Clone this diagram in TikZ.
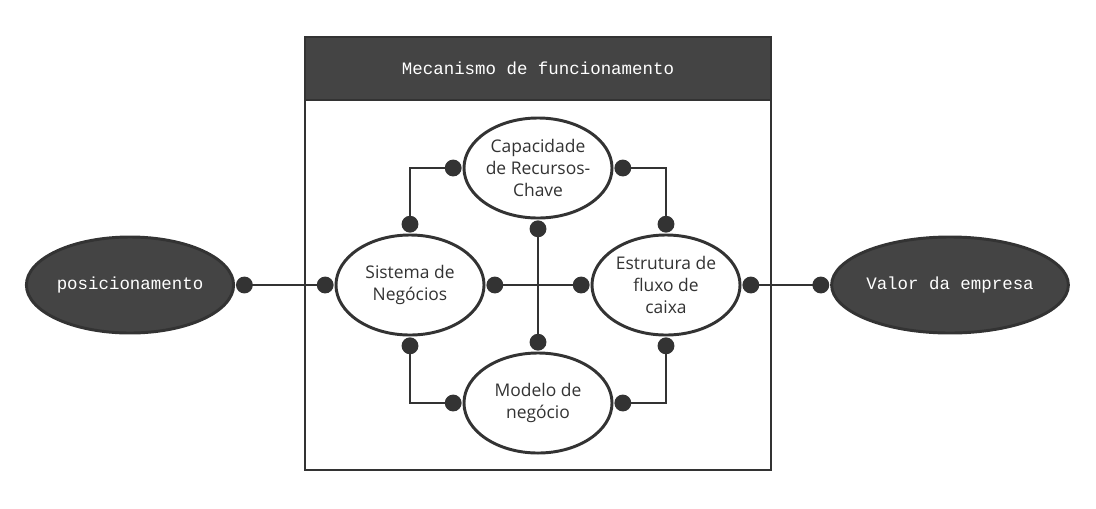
\documentclass[tikz,border=0pt]{standalone}
\usepackage{fontspec}
\setmainfont{Open Sans}
\setmonofont{Liberation Mono}
\usetikzlibrary{shapes.geometric,arrows.meta}
\definecolor{mechdark}{RGB}{68,68,68}
\definecolor{mechline}{RGB}{51,51,51}

\begin{document}
\begin{tikzpicture}[x=0.025cm, y=-0.025cm,
        part/.style={ellipse, draw=mechline, line width=2.1pt, fill=white,
                     minimum width=3.7cm, minimum height=2.5cm, inner sep=0pt,
                     outer sep=0.06cm, align=center, text=mechline,
                     font=\fontsize{12.4}{15.6}\selectfont},
        endnode/.style={ellipse, draw=mechline, line width=2.1pt, fill=mechdark,
                     minimum height=2.4cm, inner sep=0pt, outer sep=0.06cm,
                     text=white, font=\ttfamily\fontsize{12.4}{15}\selectfont},
        link/.style={line width=2.1pt, draw=mechline,
                     arrows={Circle[length=0.42cm]-Circle[length=0.42cm]}},
    ]
        \useasboundingbox (0,0) rectangle (1096,508);

        % Frame
        \node[draw=mechline, line width=1.5pt, minimum width=11.65cm,
              minimum height=10.825cm] (box) at (538,253.5) {};
        \node[draw=mechline, line width=1.5pt, fill=mechdark, text=white,
              minimum width=11.65cm, minimum height=1.575cm,
              font=\ttfamily\fontsize{12.4}{15}\selectfont] (head) at (538,68.5)
              {Mecanismo de funcionamento};

        % Nodes
        \node[endnode, minimum width=4.75cm] (pos) at (130,285) {posicionamento};
        \node[endnode, minimum width=5.4cm] (val) at (950,285) {Valor da empresa};
        \node[part] (sys)  at (410,285) {Sistema de\\Negócios};
        \node[part] (cap)  at (538,168) {Capacidade\\de Recursos-\\Chave};
        \node[part] (flux) at (666,285) {Estrutura de\\fluxo de\\caixa};
        \node[part] (mod)  at (538,403) {Modelo de\\negócio};

        % Connectors
        \draw[link] (pos) -- (sys);
        \draw[link] (sys) -- (flux);
        \draw[link] (flux) -- (val);
        \draw[link] (cap.south) -- (mod.north);
        \draw[link] (sys.north) |- (cap.west);
        \draw[link] (cap.east) -| (flux.north);
        \draw[link] (sys.south) |- (mod.west);
        \draw[link] (mod.east) -| (flux.south);
    \end{tikzpicture}
\end{document}
